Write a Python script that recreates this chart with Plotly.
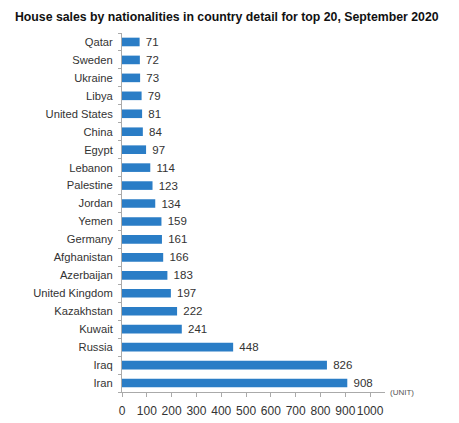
import plotly.graph_objects as go

# top 20 nationalities, September 2020 (top of chart first)
countries = ["Qatar", "Sweden", "Ukraine", "Libya", "United States", "China", "Egypt",
             "Lebanon", "Palestine", "Jordan", "Yemen", "Germany", "Afghanistan",
             "Azerbaijan", "United Kingdom", "Kazakhstan", "Kuwait", "Russia", "Iraq", "Iran"]
sales = [71, 72, 73, 79, 81, 84, 97, 114, 123, 134, 159, 161, 166, 183, 197, 222, 241, 448, 826, 908]
x_ticks = [0, 100, 200, 300, 400, 500, 600, 700, 800, 900, 1000]

fig = go.Figure(go.Bar(
    x=sales,
    y=countries,
    orientation="h",
    marker=dict(color="#2a7dc6", line=dict(width=0)),
    width=0.48,
    text=sales,
    texttemplate=" %{x}",
    textposition="outside",
    constraintext="none",
    textfont=dict(size=11.5, color="#333333"),
    cliponaxis=False,
))

# page body has an 8px margin, so the figure is a bit smaller than the window
fig.update_layout(
    width=451,
    height=415,
    margin=dict(l=114, r=74, t=25, b=31, autoexpand=False),
    paper_bgcolor="white",
    plot_bgcolor="white",
    font=dict(family="Arial, Liberation Sans, sans-serif", size=11, color="#333333"),
    title=dict(
        text="<b>House sales by nationalities in country detail for top 20, September 2020</b>",
        x=0.485, xanchor="center", y=0.978, yanchor="middle",
        font=dict(size=12.3, color="#111111"),
    ),
    showlegend=False,
)

fig.update_xaxes(
    range=[0, 1060],
    tickvals=x_ticks,
    tickangle=0,
    showgrid=False,
    zeroline=False,
    showline=True,
    linecolor="#aaaaaa",
    ticks="outside",
    ticklen=4,
    tickcolor="#aaaaaa",
    tickfont=dict(size=12, color="#333333"),
    ticklabelstandoff=4,
    automargin=False,
)

fig.update_yaxes(
    categoryorder="array",
    categoryarray=countries[::-1],
    showgrid=False,
    showline=True,
    linecolor="#aaaaaa",
    ticks="outside",
    tickson="boundaries",
    ticklen=3,
    tickcolor="#aaaaaa",
    tickfont=dict(size=11.2, color="#333333"),
    ticklabelstandoff=6,
    automargin=False,
)

fig.add_annotation(
    text="(UNIT)", x=1, xref="paper", y=0, yref="paper",
    xanchor="left", yanchor="middle", xshift=3, showarrow=False,
    font=dict(size=8, color="#555555"),
)

fig.write_html("out.html")
